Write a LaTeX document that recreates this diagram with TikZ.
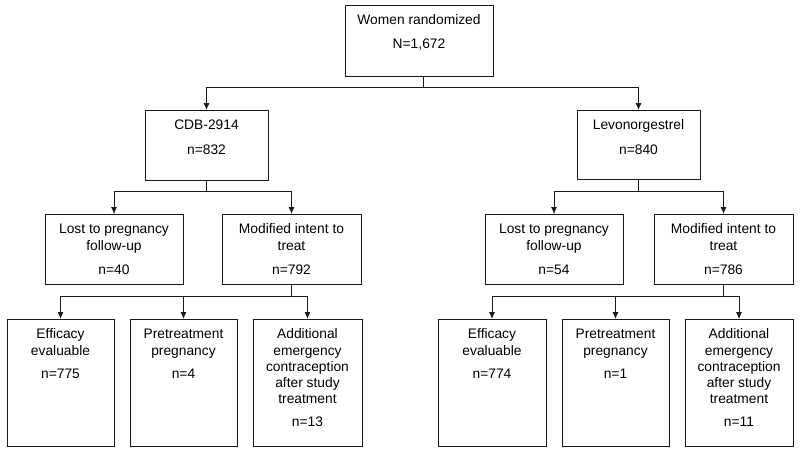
\documentclass[tikz,border=0pt]{standalone}
\usepackage{fontspec}
\setmainfont{Liberation Sans}
\usepackage{tikz}
\usetikzlibrary{arrows.meta}

\newcommand{\flowtext}[3]{\parbox[t][#2][t]{#1}{\centering\fontsize{13.8}{16.2}\selectfont\rule{0pt}{19.5pt}#3}}

\begin{document}
\begin{tikzpicture}%
	[x=1pt,
	y=-1pt,
	flowbox/.style={draw=black!90, line width=0.8pt, inner sep=0pt, anchor=north},
	link/.style={draw=black!90, line width=0.8pt},
	arrow/.style={link, -{Latex[length=7pt,width=6pt]}}]
%
%% Frame of the page
%%
\useasboundingbox (0,0) rectangle (800,455);
%%
%% Boxes
%%
\node[flowbox] (randomized) at (419,5)   {\flowtext{148pt}{71pt}{Women randomized\\[7pt]N=1,672}};
\node[flowbox] (cdb)        at (206.5,110) {\flowtext{123pt}{70pt}{CDB-2914\\[8pt]n=832}};
\node[flowbox] (levo)       at (638.5,110) {\flowtext{123pt}{69pt}{Levonorgestrel\\[8pt]n=840}};
%%
\node[flowbox] (lostcdb)    at (114,214)   {\flowtext{138pt}{70pt}{Lost to pregnancy\\follow-up\\[8pt]n=40}};
\node[flowbox] (mittcdb)    at (291.5,214) {\flowtext{139pt}{70pt}{Modified intent to\\treat\\[8pt]n=792}};
\node[flowbox] (lostlevo)   at (554,214)   {\flowtext{138pt}{70pt}{Lost to pregnancy\\follow-up\\[8pt]n=54}};
\node[flowbox] (mittlevo)   at (723.5,214) {\flowtext{139pt}{70pt}{Modified intent to\\treat\\[8pt]n=786}};
%%
\node[flowbox] (effcdb)     at (60.5,319)  {\flowtext{107pt}{127pt}{Efficacy\\evaluable\\[7.5pt]n=775}};
\node[flowbox] (precdb)     at (183.5,319) {\flowtext{107pt}{127pt}{Pretreatment\\pregnancy\\[7.5pt]n=4}};
\node[flowbox] (addcdb)     at (307.5,319) {\flowtext{109pt}{127pt}{Additional\\emergency\\contraception\\after study\\treatment\\[6.5pt]n=13}};
\node[flowbox] (efflevo)    at (492,319)   {\flowtext{108pt}{127pt}{Efficacy\\evaluable\\[7.5pt]n=774}};
\node[flowbox] (prelevo)    at (615.5,319) {\flowtext{107pt}{127pt}{Pretreatment\\pregnancy\\[7.5pt]n=1}};
\node[flowbox] (addlevo)    at (739,319)   {\flowtext{108pt}{127pt}{Additional\\emergency\\contraception\\after study\\treatment\\[6.5pt]n=11}};
%%
%% Connectors
%%
\draw[link] ([xshift=4pt]randomized.south) -- ++(0,11) coordinate (splitrand);
\draw[arrow] (splitrand) -| (cdb.north);
\draw[arrow] (splitrand) -| (levo.north);
%%
\draw[link] (cdb.south) -- ++(0,11) coordinate (splitcdb);
\draw[arrow] (splitcdb) -| (lostcdb.north);
\draw[arrow] (splitcdb) -| (mittcdb.north);
\draw[link] (levo.south) -- ++(0,12) coordinate (splitlevo);
\draw[arrow] (splitlevo) -| (lostlevo.north);
\draw[arrow] (splitlevo) -| (mittlevo.north);
%%
\draw[link] (mittcdb.south) -- ++(0,12) coordinate (splitmittcdb);
\draw[arrow] (splitmittcdb) -| (effcdb.north);
\draw[arrow] (splitmittcdb) -| (precdb.north);
\draw[arrow] (splitmittcdb) -| (addcdb.north);
\draw[link] (mittlevo.south) -- ++(0,12) coordinate (splitmittlevo);
\draw[arrow] (splitmittlevo) -| (efflevo.north);
\draw[arrow] (splitmittlevo) -| (prelevo.north);
\draw[arrow] (splitmittlevo) -| (addlevo.north);
%%
\end{tikzpicture}
\end{document}
